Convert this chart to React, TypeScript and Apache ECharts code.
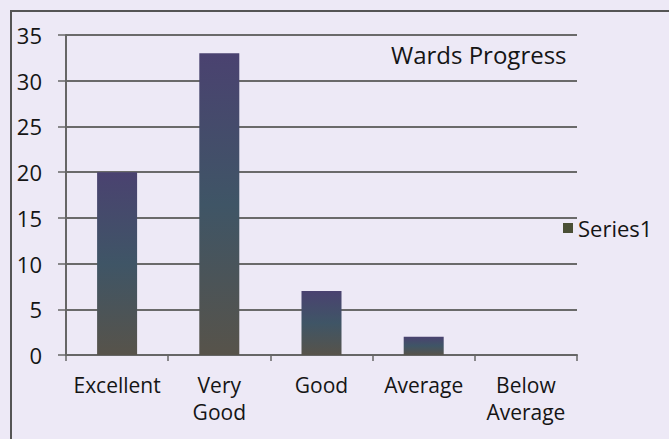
import React, { useEffect, useRef } from "react";
import * as echarts from "echarts";

const categories = ["Excellent", "Very\nGood", "Good", "Average", "Below\nAverage"];
const seriesValues = [20, 33, 7, 2, 0];
const seriesName = "Series1";
const yTicks = { min: 0, max: 35, interval: 5 };

const FONT = "'Open Sans', Lato, sans-serif";

export default function App() {
  const ref = useRef<HTMLDivElement>(null);
  useEffect(() => {
    document.body.style.margin = "0";
    const chart = echarts.init(ref.current!, null, { renderer: "svg" });
    const barGradient = new echarts.graphic.LinearGradient(0, 0, 0, 1, [
      { offset: 0, color: "#4a4270" },
      { offset: 0.5, color: "#3f5566" },
      { offset: 1, color: "#57534a" },
    ]);
    chart.setOption({
      animation: false,
      backgroundColor: "#ede9f6",
      title: {
        text: "Wards Progress",
        left: 386,
        top: 37,
        textStyle: { fontFamily: FONT, fontSize: 24, fontWeight: 500, color: "#151515" },
      },
      legend: {
        show: true,
        left: 558,
        top: 212,
        itemWidth: 10,
        itemHeight: 10,
        itemGap: 4,
        icon: "rect",
        textStyle: { fontFamily: FONT, fontSize: 22, fontWeight: 500, color: "#151515" },
        data: [{ name: seriesName, itemStyle: { color: "#4a4f35" } }],
      },
      graphic: [
        {
          type: "rect",
          shape: { x: 11, y: 11, width: 700, height: 460 },
          style: { fill: "none", stroke: "#555", lineWidth: 2 },
          silent: true,
        },
      ],
      grid: { left: 66, top: 35, right: 92, bottom: 84, containLabel: false },
      xAxis: {
        type: "category",
        data: categories,
        axisLine: { lineStyle: { color: "#666", width: 2 } },
        axisTick: { show: true, length: 6, lineStyle: { color: "#666", width: 1.5 } },
        axisLabel: {
          fontFamily: FONT,
          fontSize: 21,
          fontWeight: 500,
          color: "#151515",
          lineHeight: 27,
          margin: 16,
          interval: 0,
        },
      },
      yAxis: {
        type: "value",
        min: yTicks.min,
        max: yTicks.max,
        interval: yTicks.interval,
        axisLine: { show: true, lineStyle: { color: "#666", width: 2 } },
        axisTick: { show: true, length: 8, lineStyle: { color: "#666", width: 1.5 } },
        splitLine: { lineStyle: { color: "#6a6a6a", width: 2 } },
        axisLabel: { fontFamily: FONT, fontSize: 22, fontWeight: 500, color: "#151515", margin: 24 },
      },
      series: [
        {
          name: seriesName,
          type: "bar",
          data: seriesValues,
          barWidth: 40,
          itemStyle: { color: barGradient },
        },
      ],
    });
    return () => chart.dispose();
  }, []);
  return <div ref={ref} style={{ width: 669, height: 439 }} />;
}
